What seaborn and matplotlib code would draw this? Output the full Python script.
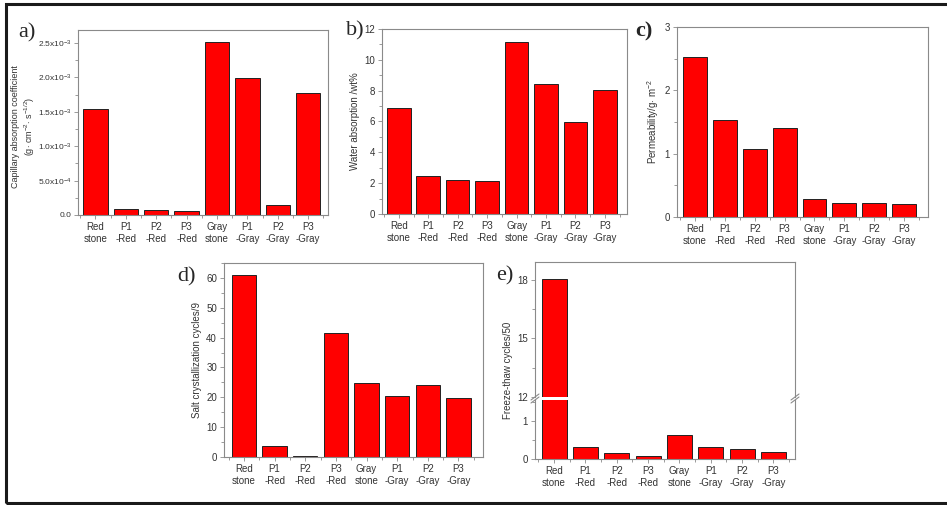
import numpy as np
import pandas as pd
import seaborn as sns
import matplotlib.pyplot as plt
from matplotlib.patches import Rectangle
from matplotlib.ticker import MultipleLocator, FixedLocator

samples = ["Red\nstone", "P1\n-Red", "P2\n-Red", "P3\n-Red",
           "Gray\nstone", "P1\n-Gray", "P2\n-Gray", "P3\n-Gray"]

capillary = [1.54e-3, 0.083e-3, 0.073e-3, 0.063e-3, 2.51e-3, 1.985e-3, 0.15e-3, 1.77e-3]
water_abs = [6.9, 2.49, 2.21, 2.14, 11.17, 8.44, 5.95, 8.05]
permeability = [2.52, 1.53, 1.08, 1.41, 0.29, 0.225, 0.22, 0.205]
salt_cycles = [61.1, 3.6, 0.2, 41.6, 24.8, 20.3, 24.0, 19.7]
freeze_thaw = [18.05, 0.32, 0.15, 0.085, 0.63, 0.32, 0.26, 0.17]

cap_ticks = [0, 5e-4, 1e-3, 1.5e-3, 2e-3, 2.5e-3]
cap_ticklabels = ["0.0", "5.0x10$^{-4}$", "1.0x10$^{-3}$", "1.5x10$^{-3}$",
                  "2.0x10$^{-3}$", "2.5x10$^{-3}$"]

sns.set_style("ticks")
plt.rcParams['font.family'] = ['Liberation Sans', 'DejaVu Sans']
plt.rcParams['mathtext.fontset'] = 'custom'
plt.rcParams['mathtext.rm'] = 'Liberation Sans'
plt.rcParams['mathtext.it'] = 'Liberation Sans:italic'

W, H = 947, 505
fig = plt.figure(figsize=(W / 100, H / 100), dpi=100)


def box(l, t, r, b):
    # pixel box -> figure fraction rect
    return [l / W, 1 - b / H, (r - l) / W, (b - t) / H]


SPINE = '#8a8a8a'
TXT = '#333333'


def bars(ax, vals, xlim, show_x=True):
    df = pd.DataFrame({"sample": samples, "value": vals})
    sns.barplot(data=df, x="sample", y="value", ax=ax, color="#ff0000",
                saturation=1, edgecolor="#222222", linewidth=0.7, width=0.8)
    ax.set_xlim(*xlim)
    ax.set_xlabel("")
    ax.set_ylabel("")
    for s in ax.spines.values():
        s.set_color(SPINE)
        s.set_linewidth(0.8)
    ax.xaxis.set_minor_locator(FixedLocator(np.arange(-0.5, 8, 1.0)))
    ax.tick_params(axis='both', which='major', direction='out', length=3,
                   width=0.6, color=SPINE, labelsize=7, labelcolor=TXT, pad=2)
    ax.tick_params(axis='both', which='minor', direction='out', length=2,
                   width=0.6, color=SPINE)
    if not show_x:
        ax.tick_params(axis='x', which='both', bottom=False, labelbottom=False)


def letter(x, y, s, bold=False):
    fig.text(x / W, 1 - y / H, s, family='Liberation Serif', fontsize=16,
             fontweight='bold' if bold else 'normal', ha='left', va='center')


# a) capillary absorption
ax = fig.add_axes(box(78, 30, 328, 215))
bars(ax, capillary, (-0.57, 7.65))
ax.set_ylim(0, 2.69e-3)
ax.set_yticks(cap_ticks)
ax.set_yticklabels(cap_ticklabels)
ax.tick_params(axis='y', labelsize=6, pad=1.5)
ax.yaxis.set_minor_locator(MultipleLocator(2.5e-4))
ax.set_ylabel("Capillary absorption coefficient\n(g$\\cdot$ cm$^{-2}$$\\cdot$ s$^{-1/2}$)",
              fontsize=6.5, color=TXT, linespacing=1.25)
ax.yaxis.set_label_coords(-0.163, 0.48)
letter(18, 33, "a)")

# b) water absorption
ax = fig.add_axes(box(382, 29, 627, 214))
bars(ax, water_abs, (-0.57, 7.75))
ax.set_ylim(0, 12)
ax.yaxis.set_major_locator(MultipleLocator(2))
ax.yaxis.set_minor_locator(MultipleLocator(1))
ax.set_ylabel("Water absorption /wt%", fontsize=7, color=TXT, labelpad=3)
letter(346, 31, "b)")

# c) permeability
ax = fig.add_axes(box(677, 27, 928, 217))
bars(ax, permeability, (-0.6, 7.8))
ax.set_ylim(0, 3)
ax.yaxis.set_major_locator(MultipleLocator(1))
ax.yaxis.set_minor_locator(MultipleLocator(0.5))
ax.set_ylabel("Permeability/g$\\cdot$ m$^{-2}$", fontsize=7, color=TXT, labelpad=3)
letter(635, 31, "c)", bold=True)

# d) salt crystallization
ax = fig.add_axes(box(224, 263, 483, 457))
bars(ax, salt_cycles, (-0.65, 7.8))
ax.set_ylim(0, 65)
ax.yaxis.set_major_locator(MultipleLocator(10))
ax.yaxis.set_minor_locator(MultipleLocator(5))
ax.set_ylabel("Salt crystallization cycles/9", fontsize=7, color=TXT, labelpad=3)
letter(177, 277, "d)")

# e) freeze-thaw, broken y axis
ax_hi = fig.add_axes(box(535, 262, 795, 397))
ax_lo = fig.add_axes(box(535, 400, 795, 459))
bars(ax_hi, freeze_thaw, (-0.61, 7.69), show_x=False)
bars(ax_lo, freeze_thaw, (-0.61, 7.69))
ax_hi.set_ylim(12, 18.9)
ax_hi.yaxis.set_major_locator(MultipleLocator(3))
ax_hi.yaxis.set_minor_locator(MultipleLocator(1.5))
ax_lo.set_ylim(0, 1.54)
ax_lo.yaxis.set_major_locator(MultipleLocator(1))
ax_lo.yaxis.set_minor_locator(MultipleLocator(0.5))
ax_hi.spines['bottom'].set_visible(False)
ax_lo.spines['top'].set_visible(False)
ax_hi.set_ylabel("Freeze-thaw cycles/50", fontsize=7, color=TXT, labelpad=3)
ax_hi.yaxis.set_label_coords(-0.085, 0.2)
for xx in (535, 795):
    for dy in (-1.5, 1.5):
        fig.add_artist(plt.Line2D([(xx - 4) / W, (xx + 4) / W],
                                  [1 - (398.5 + dy + 3) / H, 1 - (398.5 + dy - 3) / H],
                                  color=SPINE, lw=0.8))
letter(496, 276, "e)")

# outer frame of the figure
fig.add_artist(Rectangle((6 / W, 2 / H), 1.2, 1 - 6 / H, transform=fig.transFigure,
                         fill=False, edgecolor='#1a1a1a', lw=2.2))

fig.savefig("out.png", dpi=100)
